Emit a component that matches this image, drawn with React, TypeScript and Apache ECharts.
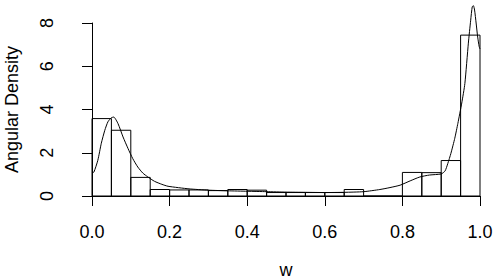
import React, { useEffect, useRef } from "react";
import * as echarts from "echarts";

// Histogram bins (left edge, right edge) and densities
const binStarts = [0.0, 0.05, 0.1, 0.15, 0.2, 0.25, 0.3, 0.35, 0.4, 0.45, 0.5, 0.55, 0.6, 0.65, 0.7, 0.75, 0.8, 0.85, 0.9, 0.95];
const binEnds = [0.05, 0.1, 0.15, 0.2, 0.25, 0.3, 0.35, 0.4, 0.45, 0.5, 0.55, 0.6, 0.65, 0.7, 0.75, 0.8, 0.85, 0.9, 0.95, 1.0];
const binDensity = [3.58, 3.04, 0.86, 0.3, 0.28, 0.28, 0.25, 0.3, 0.27, 0.16, 0.16, 0.16, 0.16, 0.3, 0, 0, 1.09, 1.08, 1.64, 7.44];

// Kernel density curve
const curveW = [0.0, 0.005, 0.015, 0.024, 0.033, 0.041, 0.05, 0.056, 0.067, 0.08, 0.093, 0.105, 0.118, 0.131, 0.144, 0.161, 0.18, 0.196, 0.25, 0.3, 0.35, 0.4, 0.45, 0.5, 0.55, 0.6, 0.65, 0.7, 0.742, 0.768, 0.794, 0.82, 0.845, 0.87, 0.9, 0.91, 0.917, 0.925, 0.935, 0.943, 0.953, 0.961, 0.97, 0.976, 0.98, 0.983, 0.986, 0.99, 0.994, 0.998, 1.0];
const curveD = [1.05, 1.11, 1.65, 2.44, 3.04, 3.43, 3.62, 3.65, 3.35, 2.73, 2.19, 1.73, 1.34, 1.06, 0.88, 0.68, 0.54, 0.45, 0.33, 0.27, 0.24, 0.22, 0.2, 0.18, 0.17, 0.16, 0.17, 0.2, 0.3, 0.39, 0.5, 0.7, 0.88, 0.97, 1.02, 1.16, 1.5, 1.97, 2.67, 3.36, 4.3, 5.2, 7.07, 8.13, 8.75, 8.8, 8.6, 8.0, 7.35, 6.9, 6.8];

const xTicks = [0, 0.2, 0.4, 0.6, 0.8, 1.0];
const yTicks = [0, 2, 4, 6, 8];

const FONT = "Liberation Sans, Arial, sans-serif";

export default function App() {
  const ref = useRef<HTMLDivElement>(null);
  useEffect(() => {
    if (!ref.current) return;
    const chart = echarts.init(ref.current, null, { renderer: "svg" });
    const histData = binStarts.map((s, i) => [s, binEnds[i], binDensity[i]]);
    const curveData = curveW.map((w, i) => [w, curveD[i]]);
    chart.setOption({
      animation: false,
      backgroundColor: "#ffffff",
      grid: { left: 92, right: 20, top: 23, bottom: 84, containLabel: false, outerBoundsMode: "none" },
      xAxis: {
        type: "value",
        min: xTicks[0],
        max: xTicks[xTicks.length - 1],
        interval: 0.2,
        offset: 7,
        splitLine: { show: false },
        axisLine: { show: true, lineStyle: { color: "#000", width: 1 } },
        axisTick: { show: true, length: 10, lineStyle: { color: "#000", width: 1 } },
        axisLabel: {
          color: "#000",
          fontFamily: FONT,
          fontSize: 18,
          margin: 20,
          formatter: (v: number) => v.toFixed(1),
        },
        name: "w",
        nameLocation: "middle",
        nameGap: 58,
        nameTextStyle: { color: "#000", fontFamily: FONT, fontSize: 18 },
      },
      yAxis: {
        type: "value",
        min: yTicks[0],
        max: yTicks[yTicks.length - 1],
        interval: 2,
        offset: 15,
        splitLine: { show: false },
        axisLine: { show: true, lineStyle: { color: "#000", width: 1 } },
        axisTick: { show: true, length: 10, lineStyle: { color: "#000", width: 1 } },
        axisLabel: {
          color: "#000",
          fontFamily: FONT,
          fontSize: 18,
          margin: 21,
          rotate: 90,
        },
        name: "Angular Density",
        nameLocation: "middle",
        nameRotate: 90,
        nameGap: 56,
        nameTextStyle: { color: "#000", fontFamily: FONT, fontSize: 18 },
      },
      series: [
        {
          type: "custom",
          data: histData,
          encode: { x: [0, 1], y: 2 },
          renderItem: (params: any, api: any) => {
            const p0 = api.coord([api.value(0), 0]);
            const p1 = api.coord([api.value(1), api.value(2)]);
            return {
              type: "rect",
              shape: { x: p0[0], y: p1[1], width: p1[0] - p0[0], height: p0[1] - p1[1] },
              style: { fill: "none", stroke: "#000", lineWidth: 1 },
            };
          },
        },
        {
          type: "line",
          data: curveData,
          showSymbol: false,
          symbol: "none",
          smooth: 0.2,
          clip: false,
          lineStyle: { color: "#000", width: 1 },
        },
      ],
    });
    return () => chart.dispose();
  }, []);
  return (
    <div
      ref={ref}
      style={{ position: "fixed", left: 0, top: 0, width: 500, height: 280, background: "#fff" }}
    />
  );
}
